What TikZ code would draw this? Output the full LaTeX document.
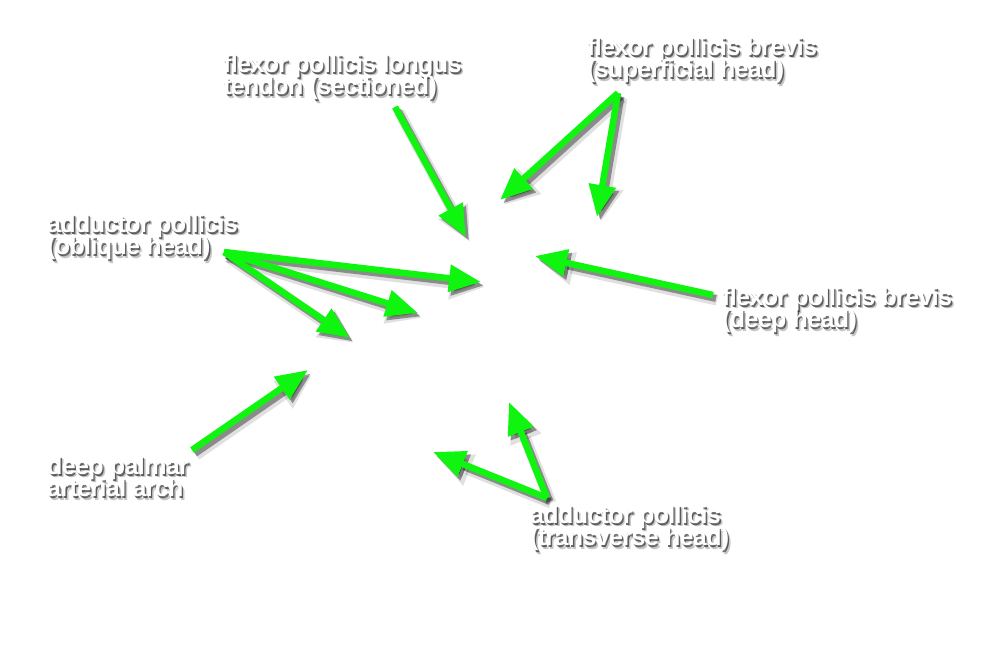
\documentclass[tikz,border=0pt]{standalone}
\usepackage{fontspec}
\newfontfamily\lblfont[LetterSpace=-2.5]{Liberation Sans}
\usetikzlibrary{arrows.meta}
\definecolor{arrgreen}{RGB}{15,245,15}
\tikzset{
  arr/.style={line width=6.5pt, draw=arrgreen, -{Triangle[length=32pt,width=26pt]}},
  arrsh/.style={line width=7pt, draw=black, opacity=0.38, -{Triangle[length=32pt,width=26pt]}, transform canvas={shift={(3pt,-3.5pt)}}},
  arrshb/.style={line width=11pt, draw=black, opacity=0.12, -{Triangle[length=35pt,width=31pt]}, transform canvas={shift={(4pt,-5pt)}}},
  lbl/.style={anchor=north west, inner sep=0pt, align=left, text=white,
    font=\lblfont\bfseries\fontsize{25}{22.5}\selectfont},
  lblsh/.style={lbl, text=black, text opacity=0.55, transform canvas={shift={(1.3pt,-1.8pt)}}},
  lblshb/.style={lbl, text=black, text opacity=0.22, transform canvas={shift={(2.8pt,-3.6pt)}}},
}
\newcommand\lab[3]{%
  \node[lblshb] (#1-b) at (#2) {#3};
  \node[lblsh] (#1-s) at (#2) {#3};
  \node[lbl] (#1) at (#2) {#3};}
\newcommand\arrshadow[2]{\draw[arrshb] (#1) -- (#2); \draw[arrsh] (#1) -- (#2);}
\begin{document}
\lineskiplimit=-50pt
\begin{tikzpicture}[x=1pt,y=-1pt]
\useasboundingbox (0,0) rectangle (1000,664);
% coordinates
\coordinate (fplT) at (395,107);  \coordinate (fplH) at (466,237);
\coordinate (fpbsT) at (618,93);  \coordinate (fpbsH1) at (500,200); \coordinate (fpbsH2) at (597,217);
\coordinate (apoT) at (224,252);  \coordinate (apoH1) at (481,282); \coordinate (apoH2) at (418,313); \coordinate (apoH3) at (350,338);
\coordinate (fpbdT) at (713,295); \coordinate (fpbdH) at (535,256);
\coordinate (dpaT) at (192,450);  \coordinate (dpaH) at (308,370);
\coordinate (aptT) at (547,498);  \coordinate (aptH1) at (433,452); \coordinate (aptH2) at (509,402);
% arrow shadows
\arrshadow{fplT}{fplH}
\arrshadow{fpbsT}{fpbsH1}
\arrshadow{fpbsT}{fpbsH2}
\arrshadow{apoT}{apoH1}
\arrshadow{apoT}{apoH2}
\arrshadow{apoT}{apoH3}
\arrshadow{fpbdT}{fpbdH}
\arrshadow{dpaT}{dpaH}
\arrshadow{aptT}{aptH1}
\arrshadow{aptT}{aptH2}
% arrows
\draw[arr] (fplT) -- (fplH);
\draw[arr] (fpbsT) -- (fpbsH1);
\draw[arr] (fpbsT) -- (fpbsH2);
\draw[arr] (apoT) -- (apoH1);
\draw[arr] (apoT) -- (apoH2);
\draw[arr] (apoT) -- (apoH3);
\draw[arr] (fpbdT) -- (fpbdH);
\draw[arr] (dpaT) -- (dpaH);
\draw[arr] (aptT) -- (aptH1);
\draw[arr] (aptT) -- (aptH2);
% labels
\lab{fpl}{223,54}{flexor pollicis longus\\tendon (sectioned)}
\lab{fpbs}{587,37}{flexor pollicis brevis\\(superficial head)}
\lab{apo}{47,214}{adductor pollicis\\(oblique head)}
\lab{fpbd}{722,287}{flexor pollicis brevis\\(deep head)}
\lab{dpa}{47,456}{deep palmar\\arterial arch}
\lab{apt}{530,505}{adductor pollicis\\(transverse head)}
\end{tikzpicture}
\end{document}
